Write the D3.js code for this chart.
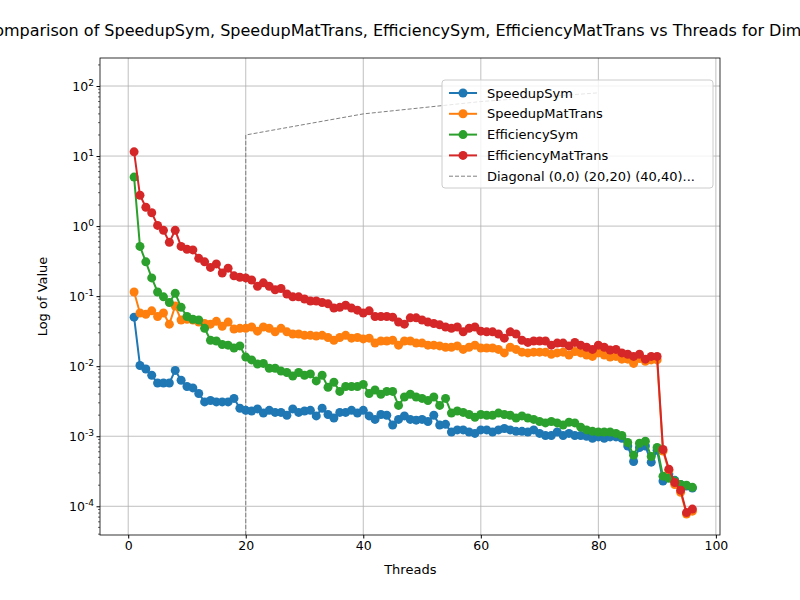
<!DOCTYPE html>
<html><head><meta charset="utf-8">
<script src="https://cdn.jsdelivr.net/npm/d3@7"></script>
<style>body{margin:0;background:#fff}text{font-family:"DejaVu Sans",sans-serif}</style>
</head><body><div id="chart"></div>
<script>
// values as log10 exponents, threads 1..96
const threads = d3.range(1, 97);
const speedupSymLog = [
  -1.30,-1.99,-2.04,-2.13,-2.24,-2.24,-2.24,-2.06,-2.20,-2.29,
  -2.31,-2.39,-2.51,-2.49,-2.51,-2.51,-2.51,-2.46,-2.60,-2.63,
  -2.64,-2.61,-2.67,-2.63,-2.66,-2.66,-2.70,-2.61,-2.66,-2.64,
  -2.63,-2.71,-2.60,-2.69,-2.74,-2.66,-2.66,-2.63,-2.67,-2.63,
  -2.71,-2.76,-2.69,-2.70,-2.84,-2.76,-2.71,-2.76,-2.77,-2.76,
  -2.79,-2.70,-2.84,-2.83,-2.94,-2.91,-2.91,-2.94,-2.96,-2.91,
  -2.91,-2.94,-2.91,-2.89,-2.91,-2.93,-2.93,-2.94,-2.91,-2.96,
  -2.99,-2.99,-2.94,-2.99,-2.96,-2.99,-2.99,-3.00,-3.03,-3.01,
  -3.03,-3.01,-3.01,-3.03,-3.14,-3.36,-3.16,-3.14,-3.37,-3.20,
  -3.64,-3.54,-3.63,-3.69,-3.71,-3.74];
const speedupMatTransLog = [
  -0.94,-1.24,-1.26,-1.21,-1.29,-1.24,-1.40,-1.14,-1.34,-1.33,
  -1.34,-1.37,-1.39,-1.40,-1.36,-1.43,-1.37,-1.47,-1.46,-1.46,
  -1.44,-1.50,-1.44,-1.46,-1.51,-1.46,-1.51,-1.54,-1.54,-1.56,
  -1.56,-1.57,-1.56,-1.59,-1.63,-1.59,-1.56,-1.60,-1.59,-1.61,
  -1.60,-1.67,-1.64,-1.64,-1.63,-1.70,-1.64,-1.64,-1.67,-1.67,
  -1.70,-1.70,-1.71,-1.73,-1.73,-1.71,-1.76,-1.73,-1.70,-1.74,
  -1.74,-1.74,-1.76,-1.81,-1.73,-1.76,-1.80,-1.81,-1.80,-1.80,
  -1.80,-1.83,-1.81,-1.80,-1.84,-1.79,-1.81,-1.84,-1.86,-1.81,
  -1.84,-1.87,-1.86,-1.90,-1.90,-1.96,-1.89,-1.93,-1.91,-1.91,
  -3.21,-3.49,-3.69,-3.80,-4.11,-4.07];
const efficiencySymLog = [
  0.70,-0.29,-0.51,-0.74,-0.94,-1.01,-1.09,-0.96,-1.16,-1.29,
  -1.33,-1.34,-1.46,-1.63,-1.64,-1.69,-1.70,-1.74,-1.71,-1.87,
  -1.91,-1.97,-1.96,-2.03,-2.03,-2.07,-2.09,-2.14,-2.09,-2.13,
  -2.11,-2.21,-2.13,-2.30,-2.23,-2.36,-2.29,-2.29,-2.29,-2.26,
  -2.39,-2.34,-2.40,-2.36,-2.36,-2.56,-2.44,-2.40,-2.44,-2.46,
  -2.49,-2.44,-2.56,-2.46,-2.67,-2.64,-2.66,-2.69,-2.73,-2.69,
  -2.70,-2.70,-2.67,-2.69,-2.70,-2.74,-2.71,-2.74,-2.76,-2.79,
  -2.81,-2.79,-2.81,-2.84,-2.80,-2.81,-2.87,-2.91,-2.93,-2.94,
  -2.94,-2.94,-2.96,-2.99,-3.09,-3.27,-3.10,-3.07,-3.29,-3.16,
  -3.57,-3.60,-3.64,-3.69,-3.70,-3.73];
const efficiencyMatTransLog = [
  1.06,0.44,0.27,0.19,0.01,-0.06,-0.23,-0.06,-0.29,-0.33,
  -0.34,-0.46,-0.51,-0.59,-0.54,-0.67,-0.60,-0.71,-0.73,-0.74,
  -0.77,-0.86,-0.81,-0.86,-0.91,-0.89,-0.97,-1.01,-1.01,-1.04,
  -1.07,-1.07,-1.09,-1.11,-1.17,-1.16,-1.13,-1.17,-1.20,-1.24,
  -1.21,-1.29,-1.29,-1.29,-1.30,-1.37,-1.40,-1.31,-1.31,-1.34,
  -1.37,-1.39,-1.41,-1.44,-1.46,-1.44,-1.51,-1.46,-1.44,-1.50,
  -1.51,-1.51,-1.54,-1.60,-1.51,-1.54,-1.63,-1.66,-1.64,-1.64,
  -1.64,-1.70,-1.67,-1.67,-1.71,-1.66,-1.70,-1.73,-1.76,-1.70,
  -1.73,-1.77,-1.76,-1.81,-1.83,-1.86,-1.83,-1.90,-1.86,-1.86,
  -3.19,-3.47,-3.66,-3.77,-4.09,-4.04];
const diagX = [0, 20, 40, 60, 80];
const diagY = [0, 20, 40, 60, 80];
const xTicks = [0, 20, 40, 60, 80, 100];

const seriesNames = ['SpeedupSym', 'SpeedupMatTrans', 'EfficiencySym', 'EfficiencyMatTrans'];
const seriesColors = ['#1f77b4', '#ff7f0e', '#2ca02c', '#d62728'];
const series = [speedupSymLog, speedupMatTransLog, efficiencySymLog, efficiencyMatTransLog]
  .map((arr, i) => ({ name: seriesNames[i], color: seriesColors[i],
    points: arr.map((e, j) => ({ x: threads[j], y: Math.pow(10, e) })) }));

const width = 800, height = 600;
const margin = { top: 58, right: 80, bottom: 65, left: 100 };
const svg = d3.select('#chart').append('svg').attr('width', width).attr('height', height);

const x = d3.scaleLinear().domain([-4.8, 100.7]).range([margin.left, width - margin.right]);
const y = d3.scaleLog().domain([Math.pow(10, -4.41), Math.pow(10, 2.4)]).range([height - margin.bottom, margin.top]);

// grid
const g = svg.append('g');
g.selectAll('.vg').data(xTicks).join('line')
  .attr('x1', d => x(d)).attr('x2', d => x(d))
  .attr('y1', margin.top).attr('y2', height - margin.bottom)
  .attr('stroke', '#b0b0b0').attr('stroke-width', 0.8);
const majors = d3.range(-4, 3).map(e => Math.pow(10, e));
g.selectAll('.hg').data(majors).join('line')
  .attr('x1', margin.left).attr('x2', width - margin.right)
  .attr('y1', d => y(d)).attr('y2', d => y(d))
  .attr('stroke', '#b0b0b0').attr('stroke-width', 0.8);

// axes
const xAxis = d3.axisBottom(x).tickValues(xTicks).tickSize(3.5).tickPadding(3);
svg.append('g').attr('transform', `translate(0,${height - margin.bottom})`).call(xAxis)
  .call(a => a.select('.domain').remove())
  .selectAll('text').attr('font-size', 12.5).attr('fill', '#000');
const yAxis = d3.axisLeft(y).tickValues(majors).tickSize(3.5).tickPadding(3).tickFormat(() => '');
const ya = svg.append('g').attr('transform', `translate(${margin.left},0)`).call(yAxis);
ya.select('.domain').remove();
ya.selectAll('.tick').each(function (d) {
  const e = Math.round(Math.log10(d));
  const t = d3.select(this).append('text').attr('x', -6).attr('dy', '0.32em')
    .attr('text-anchor', 'end').attr('font-size', 12.5).attr('fill', '#000');
  t.append('tspan').text('10');
  t.append('tspan').attr('dy', '-0.55em').attr('font-size', 9).text(e);
});
const minors = [];
d3.range(-5, 3).forEach(e => d3.range(2, 10).forEach(m => {
  const v = m * Math.pow(10, e);
  if (v >= y.domain()[0] && v <= y.domain()[1]) minors.push(v);
}));
svg.append('g').selectAll('line').data(minors).join('line')
  .attr('x1', margin.left - 2).attr('x2', margin.left)
  .attr('y1', d => y(d)).attr('y2', d => y(d)).attr('stroke', '#000').attr('stroke-width', 0.6);

// clip
svg.append('clipPath').attr('id', 'clip').append('rect')
  .attr('x', margin.left).attr('y', margin.top)
  .attr('width', width - margin.left - margin.right).attr('height', height - margin.top - margin.bottom);
const plot = svg.append('g').attr('clip-path', 'url(#clip)');

// diagonal reference (zero is off the log scale, so it drops to the bottom)
const diag = diagX.map((d, i) => ({ x: d, y: diagY[i] })).filter(d => d.y > 0);
const diagPath = [{ x: diag[0].x, y: y.domain()[0] }].concat(diag);
plot.append('path').datum(diagPath)
  .attr('d', d3.line().x(d => x(d.x)).y(d => y(d.y)))
  .attr('fill', 'none').attr('stroke', 'gray').attr('stroke-width', 1).attr('stroke-dasharray', '4,2');

const line = d3.line().x(d => x(d.x)).y(d => y(d.y));
series.forEach(s => {
  plot.append('path').datum(s.points).attr('d', line)
    .attr('fill', 'none').attr('stroke', s.color).attr('stroke-width', 2);
  plot.append('g').selectAll('circle').data(s.points).join('circle')
    .attr('cx', d => x(d.x)).attr('cy', d => y(d.y)).attr('r', 4.5).attr('fill', s.color);
});

// frame
svg.append('rect').attr('x', margin.left).attr('y', margin.top)
  .attr('width', width - margin.left - margin.right).attr('height', height - margin.top - margin.bottom)
  .attr('fill', 'none').attr('stroke', '#000').attr('stroke-width', 0.8);

// labels
svg.append('text').attr('x', (margin.left + width - margin.right) / 2).attr('y', 36)
  .attr('text-anchor', 'middle').attr('font-size', 16)
  .text('Comparison of SpeedupSym, SpeedupMatTrans, EfficiencySym, EfficiencyMatTrans vs Threads for Dim 800');
svg.append('text').attr('x', x(48)).attr('y', 574).attr('text-anchor', 'middle').attr('font-size', 13).text('Threads');
svg.append('text').attr('transform', `translate(47,${(margin.top + height - margin.bottom) / 2}) rotate(-90)`)
  .attr('text-anchor', 'middle').attr('font-size', 13).text('Log of Value');

// legend
const legend = svg.append('g').attr('transform', 'translate(442,80)');
legend.append('rect').attr('width', 271).attr('height', 108).attr('rx', 3)
  .attr('fill', 'rgba(255,255,255,0.8)').attr('stroke', '#ccc');
const items = series.map(s => ({ name: s.name, color: s.color, dash: null }))
  .concat([{ name: 'Diagonal (0,0) (20,20) (40,40)...', color: 'gray', dash: '4,2' }]);
items.forEach((it, i) => {
  const row = legend.append('g').attr('transform', `translate(0,${13 + i * 20.8})`);
  row.append('line').attr('x1', 7).attr('x2', 35).attr('stroke', it.color)
    .attr('stroke-width', it.dash ? 1 : 2).attr('stroke-dasharray', it.dash);
  if (!it.dash) row.append('circle').attr('cx', 21).attr('r', 4.5).attr('fill', it.color);
  row.append('text').attr('x', 45).attr('dy', '0.35em').attr('font-size', 13).text(it.name);
});
</script></body></html>
